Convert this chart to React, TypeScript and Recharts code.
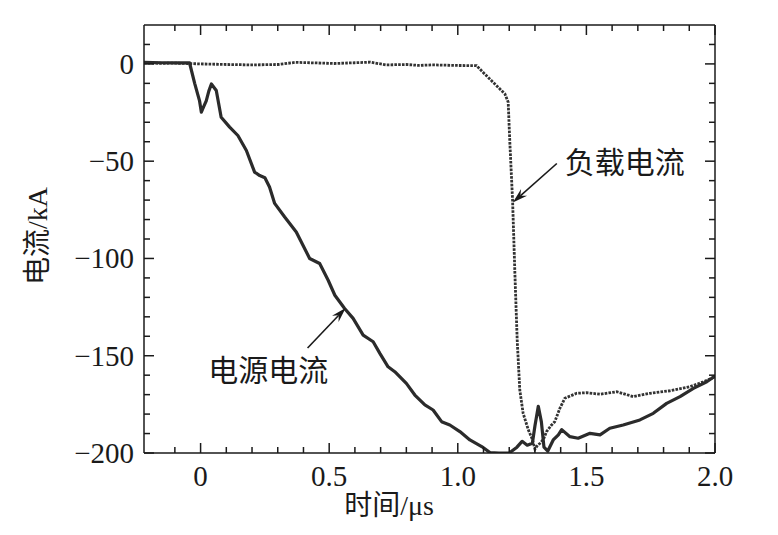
import {
  LineChart,
  Line,
  XAxis,
  YAxis,
  ReferenceLine,
  ReferenceDot,
} from 'recharts';

// 电源电流 (source current), time in μs, current in kA
const srcT = [
  -0.22, -0.15, -0.1, -0.06, -0.043, -0.023, -0.004, 0.003, 0.012, 0.022, 0.032, 0.042,
  0.061, 0.08, 0.113, 0.145, 0.178, 0.21, 0.23, 0.25, 0.268, 0.288, 0.327, 0.372, 0.398,
  0.424, 0.463, 0.496, 0.522, 0.56, 0.593, 0.632, 0.671, 0.697, 0.729, 0.755, 0.8, 0.833,
  0.872, 0.904, 0.937, 0.969, 1.008, 1.047, 1.093, 1.125, 1.16, 1.2, 1.23, 1.25, 1.27,
  1.29, 1.3, 1.313, 1.325, 1.335, 1.35, 1.371, 1.391, 1.404, 1.436, 1.468, 1.514, 1.553,
  1.591, 1.643, 1.708, 1.76, 1.812, 1.864, 1.916, 1.968, 2.0,
];
const srcI = [
  0.8, 0.6, 0.5, 0.5, 0.6, -10, -19, -24.8, -22, -19, -14, -10.3,
  -13.7, -27.4, -32.5, -36.8, -44.5, -55.6, -57.4, -58.5, -63.3, -71.7, -78.7, -86.4, -93.2,
  -100, -102.6, -111.2, -118.9, -125.7, -130.8, -139.4, -142.8, -148.8, -155.7, -158.2, -164.2, -170.2,
  -175.3, -177.9, -183.9, -185.6, -189, -193.3, -196.7, -199.8, -200, -200, -197, -194, -196,
  -195, -186, -176, -184, -197, -199, -193.3, -190.7, -188, -191.6, -192.4, -189.9, -190.7,
  -187.3, -185.6, -183, -179.6, -174.5, -171, -166.8, -163.4, -160.5,
];

// 负载电流 (load current)
const loadT = [
  -0.22, -0.15, -0.1, -0.05, 0, 0.1, 0.2, 0.3, 0.37, 0.45, 0.52, 0.6, 0.66, 0.72, 0.8,
  0.85, 0.9, 1.0, 1.073, 1.098, 1.137, 1.183, 1.196, 1.202, 1.213, 1.222, 1.231, 1.241,
  1.254, 1.274, 1.29, 1.3, 1.31, 1.32, 1.333, 1.345, 1.362, 1.377, 1.397, 1.416, 1.462,
  1.501, 1.553, 1.618, 1.682, 1.747, 1.825, 1.903, 1.955, 2.0,
];
const loadI = [
  0.5, 0.3, 0.4, 0.2, 0, -0.3, -0.5, -0.3, 0.8, 0.5, 0.2, 0.6, 0.9, -0.5, -0.3,
  -0.8, -0.5, -0.8, -0.9, -4.3, -9.4, -15.4, -19.7, -39.4, -70.1, -107.7, -142, -167.6,
  -179.6, -188, -193, -198, -196, -195, -193, -189, -186, -183.9, -177, -171.9, -169.3,
  -169, -169.8, -168.5, -171, -169.3, -168, -165.9, -163.4, -160.8,
];

const xTicks = [-0.1, 0, 0.1, 0.2, 0.3, 0.4, 0.5, 0.6, 0.7, 0.8, 0.9, 1.0, 1.1, 1.2, 1.3, 1.4, 1.5, 1.6, 1.7, 1.8, 1.9, 2.0];
const xLabels = [0, 0.5, 1.0, 1.5, 2.0];
const yTicks = [10, 0, -10, -20, -30, -40, -50, -60, -70, -80, -90, -100, -110, -120, -130, -140, -150, -160, -170, -180, -190, -200];
const yLabels = [0, -50, -100, -150, -200];

const srcData = srcT.map((t, i) => ({ t, i: srcI[i] }));
const loadData = loadT.map((t, i) => ({ t, i: loadI[i] }));

const FONT = "'Liberation Serif', 'Noto Sans CJK SC', serif";
const INK = '#1a1a1a';

const isMajor = (list: number[], v: number) => list.some((m) => Math.abs(m - v) < 1e-6);
const fmtX = (v: number) => (v === 0 ? '0' : v.toFixed(1));
const fmtY = (v: number) => (v === 0 ? '0' : '\u2212' + Math.abs(v));

const BottomTick = (p: any) => {
  const major = isMajor(xLabels, p.payload.value);
  return (
    <g>
      <line x1={p.x} x2={p.x} y1={p.y} y2={p.y - (major ? 10 : 6)} stroke={INK} strokeWidth={1.5} />
      {major && (
        <text x={p.x} y={p.y + 33} textAnchor="middle" fontFamily={FONT} fontSize={29} fill={INK}>
          {fmtX(p.payload.value)}
        </text>
      )}
    </g>
  );
};

const TopTick = (p: any) => {
  const major = isMajor(xLabels, p.payload.value);
  return <line x1={p.x} x2={p.x} y1={p.y} y2={p.y + (major ? 10 : 6)} stroke={INK} strokeWidth={1.5} />;
};

const LeftTick = (p: any) => {
  const major = isMajor(yLabels, p.payload.value);
  return (
    <g>
      <line x1={p.x} x2={p.x + (major ? 10 : 6)} y1={p.y} y2={p.y} stroke={INK} strokeWidth={1.5} />
      {major && (
        <text x={p.x - 10} y={p.y} dy="0.34em" textAnchor="end" fontFamily={FONT} fontSize={29} fill={INK}>
          {fmtY(p.payload.value)}
        </text>
      )}
    </g>
  );
};

const RightTick = (p: any) => {
  const major = isMajor(yLabels, p.payload.value);
  return <line x1={p.x} x2={p.x - (major ? 10 : 6)} y1={p.y} y2={p.y} stroke={INK} strokeWidth={1.5} />;
};

const XTitle = (p: any) => {
  const vb = p.viewBox;
  return (
    <text x={vb.x + 245} y={vb.y + 62} textAnchor="middle" fontFamily={FONT} fontSize={28} fill={INK}>
      时间/μs
    </text>
  );
};

const YTitle = (p: any) => {
  const vb = p.viewBox;
  const cx = vb.x + vb.width - 107;
  const cy = vb.y + 211;
  return (
    <text
      x={cx}
      y={cy}
      transform={`rotate(-90 ${cx} ${cy})`}
      textAnchor="middle"
      dominantBaseline="central"
      fontFamily={FONT}
      fontSize={28}
      fill={INK}
    >
      电流/kA
    </text>
  );
};

const Arrow = (p: any) => {
  const { x1, y1, x2, y2 } = p;
  const ang = Math.atan2(y2 - y1, x2 - x1);
  const c = Math.cos(ang);
  const s = Math.sin(ang);
  const len = 15;
  const half = 4.5;
  const notch = 10;
  const bx = x2 - len * c;
  const by = y2 - len * s;
  const nx = x2 - notch * c;
  const ny = y2 - notch * s;
  const pts = [
    `${x2},${y2}`,
    `${bx - half * s},${by + half * c}`,
    `${nx},${ny}`,
    `${bx + half * s},${by - half * c}`,
  ].join(' ');
  return (
    <g>
      <line x1={x1} y1={y1} x2={nx} y2={ny} stroke={INK} strokeWidth={1.6} />
      <polygon points={pts} fill={INK} />
    </g>
  );
};

const Note = (text: string) => (p: any) => (
  <text x={p.cx} y={p.cy} dy="0.36em" textAnchor="start" fontFamily={FONT} fontSize={30} fill={INK}>
    {text}
  </text>
);

export default function App() {
  return (
    <LineChart width={770} height={527} margin={{ top: 16, right: 62, bottom: 22, left: 36 }}>
      <XAxis
        dataKey="t"
        type="number"
        domain={[-0.22, 2.0]}
        allowDataOverflow
        ticks={xTicks}
        interval={0}
        tickSize={0}
        tickMargin={0}
        height={60}
        tick={BottomTick}
        axisLine={{ stroke: INK, strokeWidth: 1.5 }}
        label={XTitle}
      />
      <XAxis
        xAxisId="top"
        orientation="top"
        dataKey="t"
        type="number"
        domain={[-0.22, 2.0]}
        allowDataOverflow
        ticks={xTicks}
        interval={0}
        tickSize={0}
        tickMargin={0}
        height={1}
        tick={TopTick}
        axisLine={{ stroke: INK, strokeWidth: 1.5 }}
      />
      <YAxis
        type="number"
        domain={[-200, 20]}
        allowDataOverflow
        ticks={yTicks}
        interval={0}
        tickSize={0}
        tickMargin={0}
        width={100}
        tick={LeftTick}
        axisLine={{ stroke: INK, strokeWidth: 1.5 }}
        label={YTitle}
      />
      <YAxis
        yAxisId="right"
        orientation="right"
        type="number"
        domain={[-200, 20]}
        allowDataOverflow
        ticks={yTicks}
        interval={0}
        tickSize={0}
        tickMargin={0}
        width={1}
        tick={RightTick}
        axisLine={{ stroke: INK, strokeWidth: 1.5 }}
      />
      <Line
        data={loadData}
        dataKey="i"
        type="linear"
        stroke="#333"
        strokeWidth={2.8}
        strokeDasharray="2.6 1.2"
        dot={false}
        isAnimationActive={false}
      />
      <Line
        data={srcData}
        dataKey="i"
        type="linear"
        stroke="#2b2b2b"
        strokeWidth={3.2}
        strokeLinejoin="round"
        dot={false}
        isAnimationActive={false}
      />
      <ReferenceLine
        segment={[
          { x: 1.385, y: -51.2 },
          { x: 1.214, y: -71.2 },
        ]}
        shape={Arrow}
      />
      <ReferenceLine
        segment={[
          { x: 0.416, y: -146 },
          { x: 0.564, y: -125.5 },
        ]}
        shape={Arrow}
      />
      <ReferenceDot x={1.416} y={-50.7} r={0} shape={Note('负载电流')} />
      <ReferenceDot x={0.03} y={-157.3} r={0} shape={Note('电源电流')} />
    </LineChart>
  );
}
